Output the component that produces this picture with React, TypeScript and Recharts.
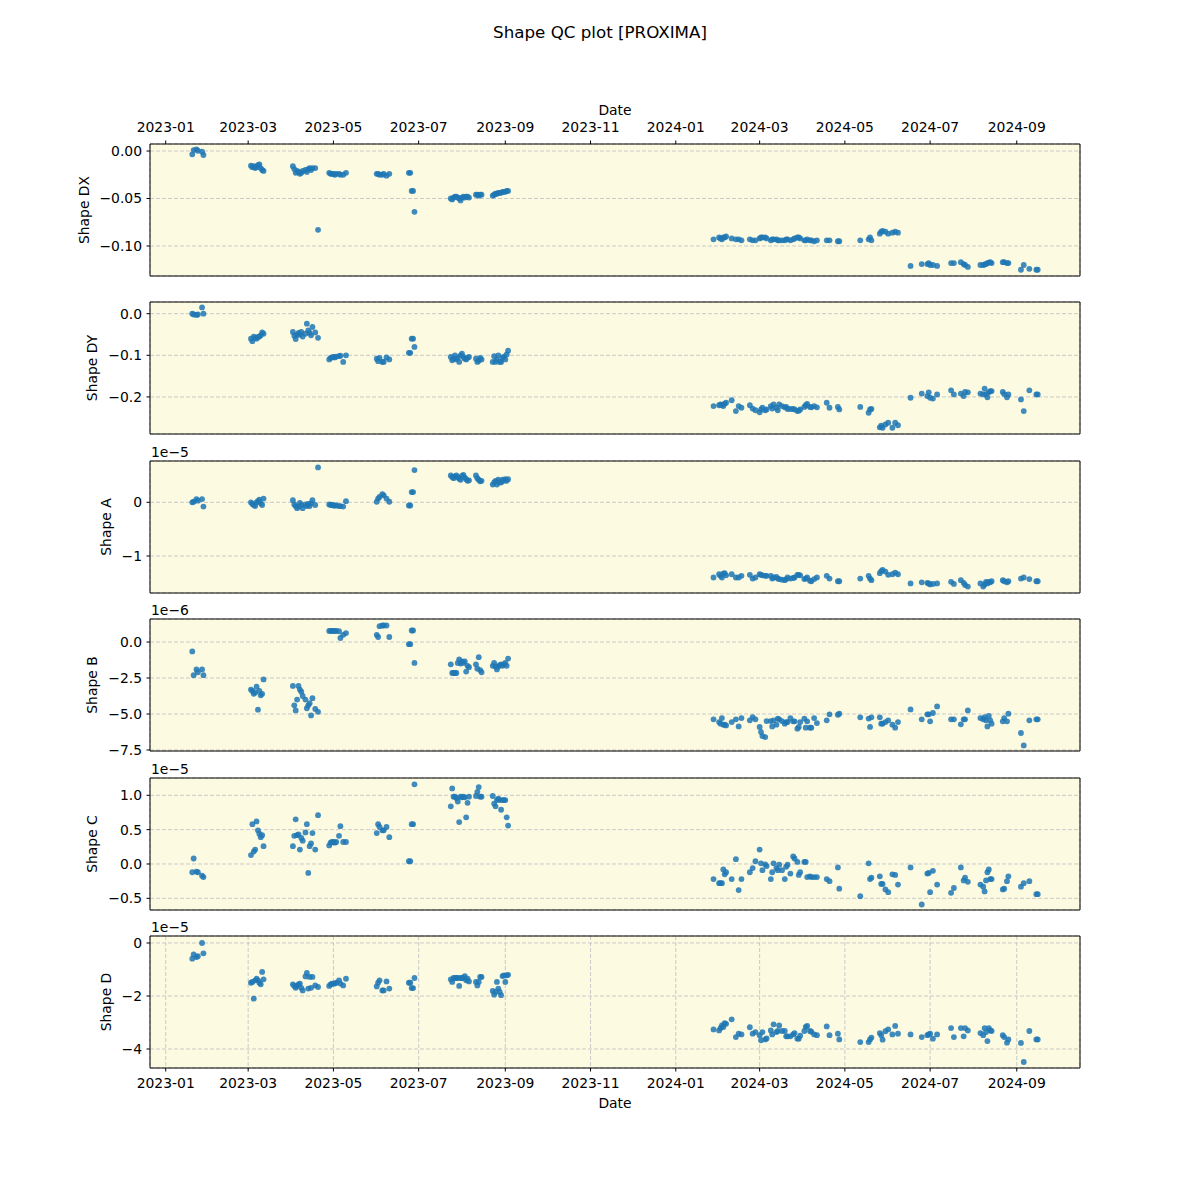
import React from "react";
import { ScatterChart, Scatter, XAxis, YAxis, CartesianGrid, ReferenceArea } from "recharts";

// observation dates (one per exposure, shared by all six panels)
const obsDates = [
  "2023-01-20", "2023-01-21", "2023-01-23", "2023-01-24", "2023-01-27", "2023-01-28",
  "2023-03-03", "2023-03-04", "2023-03-05", "2023-03-06", "2023-03-07", "2023-03-08", "2023-03-09", "2023-03-10", "2023-03-11", "2023-03-12",
  "2023-04-02", "2023-04-03", "2023-04-04", "2023-04-05", "2023-04-06", "2023-04-07", "2023-04-08", "2023-04-09", "2023-04-11", "2023-04-12", "2023-04-13", "2023-04-14", "2023-04-15", "2023-04-16", "2023-04-18", "2023-04-20",
  "2023-04-28", "2023-04-29", "2023-04-30", "2023-05-01", "2023-05-02", "2023-05-03", "2023-05-05", "2023-05-06", "2023-05-08", "2023-05-10",
  "2023-06-01", "2023-06-02", "2023-06-03", "2023-06-05", "2023-06-06", "2023-06-08", "2023-06-10",
  "2023-06-24", "2023-06-25", "2023-06-26", "2023-06-27", "2023-06-28",
  "2023-07-24", "2023-07-25", "2023-07-26", "2023-07-27", "2023-07-28", "2023-07-29", "2023-07-30", "2023-07-31", "2023-08-01", "2023-08-02", "2023-08-03", "2023-08-04", "2023-08-05", "2023-08-06",
  "2023-08-11", "2023-08-12", "2023-08-13", "2023-08-14", "2023-08-15",
  "2023-08-23", "2023-08-24", "2023-08-25", "2023-08-26", "2023-08-27", "2023-08-28", "2023-08-29", "2023-08-30", "2023-08-31", "2023-09-01", "2023-09-02", "2023-09-03",
  "2024-01-28",
  "2024-02-01", "2024-02-02", "2024-02-03", "2024-02-04", "2024-02-05", "2024-02-06", "2024-02-10", "2024-02-13", "2024-02-15", "2024-02-17", "2024-02-23", "2024-02-25", "2024-02-27",
  "2024-03-01", "2024-03-02", "2024-03-03", "2024-03-05", "2024-03-06", "2024-03-09", "2024-03-10", "2024-03-11", "2024-03-13", "2024-03-14", "2024-03-15", "2024-03-17", "2024-03-19", "2024-03-20", "2024-03-21", "2024-03-23", "2024-03-25", "2024-03-26", "2024-03-28", "2024-03-29", "2024-03-30",
  "2024-04-02", "2024-04-03", "2024-04-04", "2024-04-06", "2024-04-07", "2024-04-09", "2024-04-11", "2024-04-18", "2024-04-20", "2024-04-26", "2024-04-27",
  "2024-05-12", "2024-05-18", "2024-05-19", "2024-05-20",
  "2024-05-26", "2024-05-27", "2024-05-28", "2024-05-30", "2024-06-01", "2024-06-04", "2024-06-06", "2024-06-08",
  "2024-06-17",
  "2024-06-25", "2024-06-29", "2024-06-30", "2024-07-01", "2024-07-03", "2024-07-06",
  "2024-07-16", "2024-07-18", "2024-07-23", "2024-07-25", "2024-07-26", "2024-07-28",
  "2024-08-06", "2024-08-08", "2024-08-09", "2024-08-10", "2024-08-11", "2024-08-12", "2024-08-13", "2024-08-14",
  "2024-08-22", "2024-08-23", "2024-08-25", "2024-08-26",
  "2024-09-04", "2024-09-06", "2024-09-10", "2024-09-15", "2024-09-16",
];

const shapeDX = [
  -0.0035, 0.001, 0.0018, 0.0003, -0.0007, -0.0042,
  -0.0155, -0.017, -0.016, -0.018, -0.017, -0.015, -0.014, -0.018, -0.02, -0.021,
  -0.016, -0.019, -0.023, -0.021, -0.022, -0.024, -0.023, -0.021, -0.02, -0.022, -0.019, -0.018, -0.02, -0.018, -0.018, -0.083,
  -0.023, -0.024, -0.024, -0.024, -0.025, -0.024, -0.024, -0.025, -0.025, -0.023,
  -0.024, -0.024, -0.025, -0.025, -0.024, -0.026, -0.024,
  -0.023, -0.023, -0.042, -0.042, -0.064,
  -0.05, -0.051, -0.049, -0.048, -0.048, -0.049, -0.05, -0.052, -0.049, -0.048, -0.049, -0.048, -0.048, -0.049,
  -0.046, -0.046, -0.047, -0.046, -0.046,
  -0.047, -0.046, -0.045, -0.045, -0.044, -0.044, -0.044, -0.043, -0.043, -0.043, -0.042, -0.042,
  -0.093,
  -0.091, -0.092, -0.093, -0.091, -0.091, -0.09, -0.092, -0.093, -0.093, -0.094, -0.093, -0.094, -0.094,
  -0.092, -0.091, -0.091, -0.091, -0.092, -0.094, -0.093, -0.093, -0.093, -0.094, -0.094, -0.094, -0.094, -0.093, -0.093, -0.094, -0.093, -0.092, -0.091, -0.091, -0.092,
  -0.094, -0.094, -0.093, -0.094, -0.094, -0.095, -0.094, -0.094, -0.094, -0.095, -0.095,
  -0.094, -0.093, -0.091, -0.094,
  -0.087, -0.085, -0.084, -0.085, -0.087, -0.086, -0.085, -0.086,
  -0.121,
  -0.119, -0.119, -0.118, -0.12, -0.12, -0.121,
  -0.118, -0.118, -0.117, -0.119, -0.12, -0.122,
  -0.12, -0.12, -0.1195, -0.119, -0.118, -0.1175, -0.117, -0.118,
  -0.117, -0.117, -0.118, -0.118,
  -0.125, -0.12, -0.124, -0.125, -0.125,
];

const shapeDY = [
  0.0, -0.002, -0.003, -0.002, 0.015, 0.0,
  -0.06, -0.066, -0.055, -0.058, -0.06, -0.056, -0.055, -0.052, -0.045, -0.048,
  -0.044, -0.053, -0.061, -0.051, -0.046, -0.05, -0.044, -0.055, -0.048, -0.024, -0.04, -0.046, -0.052, -0.032, -0.045, -0.058,
  -0.11, -0.106, -0.105, -0.104, -0.105, -0.103, -0.102, -0.101, -0.116, -0.1,
  -0.108, -0.114, -0.106, -0.116, -0.116, -0.105, -0.11,
  -0.094, -0.094, -0.06, -0.06, -0.08,
  -0.104, -0.112, -0.108, -0.1, -0.11, -0.106, -0.116, -0.1, -0.096, -0.104, -0.108, -0.11, -0.106, -0.104,
  -0.108, -0.116, -0.113, -0.106, -0.11,
  -0.116, -0.102, -0.116, -0.11, -0.1, -0.116, -0.116, -0.106, -0.103, -0.11, -0.098, -0.089,
  -0.222,
  -0.22, -0.218, -0.219, -0.222, -0.216, -0.214, -0.208, -0.234, -0.222, -0.226, -0.22, -0.228, -0.232,
  -0.237, -0.23, -0.226, -0.232, -0.23, -0.222, -0.228, -0.218, -0.226, -0.232, -0.218, -0.222, -0.225, -0.224, -0.229, -0.229, -0.229, -0.23, -0.234, -0.233, -0.23,
  -0.224, -0.22, -0.217, -0.224, -0.225, -0.222, -0.225, -0.214, -0.226, -0.224, -0.23,
  -0.224, -0.238, -0.23, -0.229,
  -0.273, -0.269, -0.274, -0.266, -0.262, -0.274, -0.262, -0.268,
  -0.202,
  -0.192, -0.198, -0.189, -0.202, -0.204, -0.194,
  -0.184, -0.194, -0.192, -0.198, -0.188, -0.189,
  -0.192, -0.194, -0.18, -0.193, -0.201, -0.189, -0.186, -0.186,
  -0.188, -0.193, -0.201, -0.194,
  -0.206, -0.234, -0.184, -0.194, -0.194,
];

// in units of 1e-5
const shapeA = [
  0.0, 0.01, 0.06, 0.03, 0.06, -0.08,
  0.0, -0.03, -0.05, -0.07, 0.0, 0.02, 0.05, -0.02, -0.05, 0.07,
  0.04, -0.04, -0.07, -0.11, -0.08, -0.01, -0.05, -0.11, -0.04, -0.07, -0.03, -0.07, -0.02, 0.04, -0.05, 0.65,
  -0.04, -0.05, -0.05, -0.06, -0.06, -0.06, -0.07, -0.07, -0.08, 0.02,
  0.01, 0.07, 0.1, 0.15, 0.13, 0.07, 0.01,
  -0.06, -0.06, 0.19, 0.19, 0.6,
  0.5, 0.47, 0.45, 0.48, 0.5, 0.47, 0.44, 0.42, 0.49, 0.51, 0.46, 0.43, 0.4, 0.41,
  0.5, 0.45, 0.42, 0.39, 0.4,
  0.33, 0.37, 0.4, 0.33, 0.42, 0.37, 0.37, 0.42, 0.4, 0.43, 0.4, 0.43,
  -1.4,
  -1.34, -1.37, -1.4, -1.33, -1.32, -1.36, -1.34, -1.4, -1.4, -1.37, -1.35, -1.42, -1.4,
  -1.34, -1.35, -1.36, -1.37, -1.37, -1.37, -1.42, -1.4, -1.39, -1.42, -1.43, -1.44, -1.45, -1.43, -1.4, -1.42, -1.41, -1.4, -1.35, -1.35, -1.36,
  -1.43, -1.42, -1.4, -1.46, -1.47, -1.43, -1.4, -1.37, -1.42, -1.47, -1.47,
  -1.42, -1.37, -1.42, -1.45,
  -1.32, -1.28, -1.26, -1.29, -1.35, -1.34, -1.31, -1.34,
  -1.51,
  -1.49, -1.5, -1.51, -1.53, -1.52, -1.51,
  -1.48, -1.52, -1.45, -1.5, -1.54, -1.57,
  -1.51, -1.57, -1.53, -1.48, -1.51, -1.48, -1.49, -1.47,
  -1.45, -1.47, -1.49, -1.47,
  -1.42, -1.4, -1.43, -1.47, -1.47,
];

// in units of 1e-6
const shapeB = [
  -0.65, -2.3, -1.9, -2.1, -1.9, -2.3,
  -3.3, -3.4, -3.6, -3.5, -3.1, -4.7, -3.4, -3.7, -3.6, -2.6,
  -3.05, -4.4, -4.75, -4.0, -3.05, -3.3, -3.45, -3.75, -4.0, -4.6, -4.4, -4.25, -5.1, -3.9, -4.65, -4.85,
  0.77, 0.77, 0.77, 0.77, 0.77, 0.77, 0.75, 0.28, 0.5, 0.62,
  0.5, 0.35, 1.1, 1.15, 1.15, 1.15, 0.35,
  -0.15, -0.15, 0.8, 0.8, -1.45,
  -1.55, -2.15, -2.15, -2.15, -2.15, -1.45, -1.2, -1.5, -1.35, -1.45, -1.35, -2.05, -1.65, -1.75,
  -1.55, -1.85, -1.05, -1.95, -2.1,
  -1.65, -1.45, -1.7, -1.9, -1.7, -1.6, -1.55, -1.65, -1.55, -1.45, -1.65, -1.15,
  -5.37,
  -5.56, -5.67, -5.28, -5.74, -5.74, -5.79, -5.56, -5.37, -5.86, -5.28, -5.44, -5.21, -5.37,
  -5.9, -6.25, -6.53, -6.6, -5.49, -5.49, -5.86, -5.44, -5.74, -5.32, -5.37, -5.49, -5.67, -5.56, -5.56, -5.28, -5.51, -5.51, -6.02, -5.9, -5.56,
  -5.32, -5.95, -5.51, -5.95, -5.95, -5.28, -5.63, -5.44, -5.02, -5.05, -4.98,
  -5.23, -5.32, -5.9, -5.23,
  -5.23, -5.67, -5.67, -5.56, -5.44, -5.74, -5.95, -5.56,
  -4.68,
  -5.37, -5.02, -5.02, -5.51, -4.93, -4.47,
  -5.37, -5.37, -5.72, -5.37, -5.37, -4.75,
  -5.28, -5.37, -5.21, -5.44, -5.86, -5.14, -5.44, -5.67,
  -5.51, -5.28, -5.51, -4.98,
  -6.32, -7.18, -5.44, -5.37, -5.37,
];

// in units of 1e-5
const shapeC = [
  -0.12, 0.08, -0.11, -0.12, -0.17, -0.19,
  0.13, 0.58, 0.18, 0.21, 0.62, 0.49, 0.44, 0.39, 0.42, 0.26,
  0.26, 0.41, 0.65, 0.42, 0.43, 0.21, 0.38, 0.34, 0.46, 0.58, -0.13, 0.26, 0.3, 0.45, 0.21, 0.71,
  0.27, 0.31, 0.32, 0.32, 0.31, 0.32, 0.41, 0.55, 0.32, 0.32,
  0.45, 0.58, 0.54, 0.49, 0.49, 0.54, 0.39,
  0.04, 0.04, 0.58, 0.58, 1.16,
  0.84, 1.1, 0.98, 0.98, 0.96, 0.91, 0.61, 0.98, 0.97, 0.98, 0.97, 0.68, 0.89, 0.98,
  0.99, 1.05, 1.12, 0.98, 0.98,
  0.99, 0.88, 0.84, 0.93, 0.95, 0.93, 0.79, 0.93, 0.93, 0.93, 0.68, 0.56,
  -0.22,
  -0.28, -0.28, -0.28, -0.08, -0.15, -0.12, -0.22, 0.07, -0.38, -0.22, -0.12, -0.06, 0.04,
  0.21, 0.01, -0.09, -0.005, -0.03, -0.22, -0.12, 0.01, -0.06, -0.09, -0.01, -0.09, -0.22, -0.04, -0.01, -0.14, 0.11, 0.08, 0.03, -0.16, -0.12,
  0.03, 0.03, -0.19, -0.18, -0.19, -0.19, -0.19, -0.22, -0.25, -0.05, -0.36,
  -0.47, 0.01, -0.22, -0.2,
  -0.18, -0.29, -0.29, -0.37, -0.41, -0.15, -0.16, -0.3,
  -0.05,
  -0.59, -0.14, -0.13, -0.41, -0.1, -0.3,
  -0.42, -0.35, -0.05, -0.24, -0.2, -0.26,
  -0.3, -0.33, -0.4, -0.24, -0.12, -0.08, -0.22, -0.22,
  -0.37, -0.36, -0.25, -0.18,
  -0.33, -0.28, -0.25, -0.44, -0.44,
];

// in units of 1e-5
const shapeD = [
  -0.59, -0.43, -0.53, -0.5, 0.0, -0.39,
  -1.5, -1.47, -2.1, -1.41, -1.35, -1.41, -1.5, -1.56, -1.09, -1.37,
  -1.56, -1.62, -1.69, -1.62, -1.56, -1.53, -1.69, -1.79, -1.26, -1.13, -1.72, -1.28, -1.69, -1.28, -1.6, -1.66,
  -1.62, -1.56, -1.53, -1.53, -1.53, -1.5, -1.41, -1.53, -1.6, -1.35,
  -1.64, -1.5, -1.41, -1.79, -1.79, -1.45, -1.72,
  -1.5, -1.5, -1.7, -1.7, -1.32,
  -1.37, -1.47, -1.32, -1.32, -1.32, -1.32, -1.62, -1.32, -1.32, -1.32, -1.25, -1.41, -1.35, -1.45,
  -1.47, -1.6, -1.47, -1.28, -1.28,
  -1.81, -1.95, -1.85, -1.47, -1.72, -1.85, -1.97, -1.25, -1.22, -1.47, -1.22, -1.2,
  -3.26,
  -3.3, -3.21, -3.11, -3.17, -3.02, -3.05, -2.88, -3.55, -3.42, -3.45, -3.18, -3.42, -3.36,
  -3.48, -3.67, -3.36, -3.64, -3.6, -3.3, -3.45, -3.07, -3.36, -3.32, -3.11, -3.32, -3.32, -3.52, -3.52, -3.52, -3.45, -3.4, -3.61, -3.61, -3.5,
  -3.32, -3.17, -3.13, -3.32, -3.35, -3.45, -3.48, -3.15, -3.48, -3.42, -3.64,
  -3.74, -3.74, -3.64, -3.57,
  -3.4, -3.48, -3.65, -3.33, -3.26, -3.45, -3.13, -3.42,
  -3.45,
  -3.55, -3.48, -3.45, -3.42, -3.61, -3.45,
  -3.21, -3.55, -3.21, -3.52, -3.21, -3.3,
  -3.4, -3.48, -3.21, -3.36, -3.7, -3.21, -3.3, -3.32,
  -3.48, -3.55, -3.76, -3.64,
  -3.77, -4.49, -3.32, -3.64, -3.64,
];

const monthTicks = [
  "2023-01", "2023-03", "2023-05", "2023-07", "2023-09", "2023-11",
  "2024-01", "2024-03", "2024-05", "2024-07", "2024-09",
];

const BG = "#fcfbe1";
const DOT = "#1f77b4";
const FONT = "'DejaVu Sans', sans-serif";
const PLOT_RIGHT = 1080;
const PLOT_H = 132;
const FIRST_TOP = 144;
const STEP = 158.4;

const obsTimes = obsDates.map((d) => Date.parse(d));
const tMin = Math.min(...obsTimes);
const tMax = Math.max(...obsTimes);
const tPad = (tMax - tMin) * 0.05;
const xDomain: [number, number] = [tMin - tPad, tMax + tPad];
const xTicks = monthTicks.map((m) => Date.parse(m + "-01"));

const fmtMonth = (v: number) => {
  const d = new Date(v);
  return `${d.getUTCFullYear()}-${String(d.getUTCMonth() + 1).padStart(2, "0")}`;
};

interface PanelSpec {
  name: string;
  values: number[];
  domain: [number, number];
  ticks: number[];
  digits: number;
  offset?: string;
  labelX: number;
}

const panels: PanelSpec[] = [
  { name: "Shape DX", values: shapeDX, domain: [-0.1316, 0.0074], ticks: [-0.1, -0.05, 0], digits: 2, labelX: 84 },
  { name: "Shape DY", values: shapeDY, domain: [-0.289, 0.028], ticks: [-0.2, -0.1, 0], digits: 1, labelX: 92 },
  { name: "Shape A", values: shapeA, domain: [-1.689, 0.769], ticks: [-1, 0], digits: 0, offset: "1e\u22125", labelX: 106 },
  { name: "Shape B", values: shapeB, domain: [-7.57, 1.6], ticks: [-7.5, -5, -2.5, 0], digits: 1, offset: "1e\u22126", labelX: 92 },
  { name: "Shape C", values: shapeC, domain: [-0.67, 1.252], ticks: [-0.5, 0, 0.5, 1], digits: 1, offset: "1e\u22125", labelX: 92 },
  { name: "Shape D", values: shapeD, domain: [-4.717, 0.264], ticks: [-4, -2, 0], digits: 0, offset: "1e\u22125", labelX: 106 },
];

const fmtNum = (digits: number) => (v: number) =>
  (v < 0 ? "\u2212" : "") + Math.abs(v).toFixed(digits);

const Dot = (props: any) => (
  <circle cx={props.cx} cy={props.cy} r={2.9} fill={DOT} fillOpacity={0.85} />
);

function Panel({ spec, index }: { spec: PanelSpec; index: number }) {
  const isFirst = index === 0;
  const isLast = index === panels.length - 1;
  const plotTop = FIRST_TOP + index * STEP;
  const pad = 4;
  const topAxisH = isFirst ? 30 : 0;
  const bottomAxisH = isLast ? 30 : 6;
  const height = pad + topAxisH + PLOT_H + bottomAxisH + pad;
  const rows = obsTimes.map((t, i) => ({ t, v: spec.values[i] }));
  const tickStyle = { fill: "#000", fontSize: 13.9 };

  return (
    <div style={{ position: "absolute", left: 0, top: plotTop - pad - topAxisH }}>
      <ScatterChart width={1200} height={height} margin={{ top: pad, right: 1200 - PLOT_RIGHT, bottom: pad, left: 0 }}>
        <CartesianGrid stroke="#c9c9c9" strokeDasharray="4 2" fill={BG} fillOpacity={1} />
        {isFirst && (
          <XAxis
            xAxisId="top"
            orientation="top"
            type="number"
            dataKey="t"
            domain={xDomain}
            allowDataOverflow
            ticks={xTicks}
            interval={0}
            tickFormatter={fmtMonth}
            tick={tickStyle}
            tickSize={3.5}
            tickMargin={9}
            axisLine={false}
            stroke="#000"
            height={topAxisH}
          />
        )}
        <XAxis
          type="number"
          dataKey="t"
          domain={xDomain}
          allowDataOverflow
          ticks={xTicks}
          interval={0}
          tickFormatter={fmtMonth}
          tick={isLast ? tickStyle : false}
          tickSize={3.5}
          tickMargin={6.5}
          axisLine={false}
          stroke="#000"
          height={bottomAxisH}
        />
        <YAxis
          type="number"
          dataKey="v"
          domain={spec.domain}
          allowDataOverflow
          ticks={spec.ticks}
          interval={0}
          tickFormatter={fmtNum(spec.digits)}
          tick={tickStyle}
          tickSize={3.5}
          tickMargin={4.5}
          axisLine={false}
          stroke="#000"
          width={150}
        />
        <Scatter data={rows} shape={Dot} isAnimationActive={false} />
        <ReferenceArea
          x1={xDomain[0]}
          x2={xDomain[1]}
          y1={spec.domain[0]}
          y2={spec.domain[1]}
          fill="none"
          stroke="#000"
          strokeWidth={1}
          ifOverflow="visible"
        />
      </ScatterChart>
    </div>
  );
}

export default function App() {
  return (
    <div style={{ position: "absolute", left: 0, top: 0, width: 1200, height: 1200, background: "#fff", fontFamily: FONT, color: "#000" }}>
      <div style={{ position: "absolute", left: 600, top: 22, transform: "translateX(-50%)", fontSize: 16.7, lineHeight: "20px", whiteSpace: "nowrap" }}>
        Shape QC plot [PROXIMA]
      </div>
      <div style={{ position: "absolute", left: 615, top: 102, transform: "translateX(-50%)", fontSize: 13.9, lineHeight: "16px" }}>
        Date
      </div>
      <div style={{ position: "absolute", left: 615, top: 1095, transform: "translateX(-50%)", fontSize: 13.9, lineHeight: "16px" }}>
        Date
      </div>
      {panels.map((p, i) => {
        const plotTop = FIRST_TOP + i * STEP;
        return (
          <React.Fragment key={p.name}>
            <Panel spec={p} index={i} />
            <div
              style={{
                position: "absolute",
                left: p.labelX,
                top: plotTop + PLOT_H / 2,
                transform: "translate(-50%, -50%) rotate(-90deg)",
                fontSize: 13.9,
                lineHeight: "16px",
                whiteSpace: "nowrap",
              }}
            >
              {p.name}
            </div>
            {p.offset && (
              <div style={{ position: "absolute", left: 151, top: plotTop - 17, fontSize: 13.9, lineHeight: "16px" }}>
                {p.offset}
              </div>
            )}
          </React.Fragment>
        );
      })}
    </div>
  );
}
